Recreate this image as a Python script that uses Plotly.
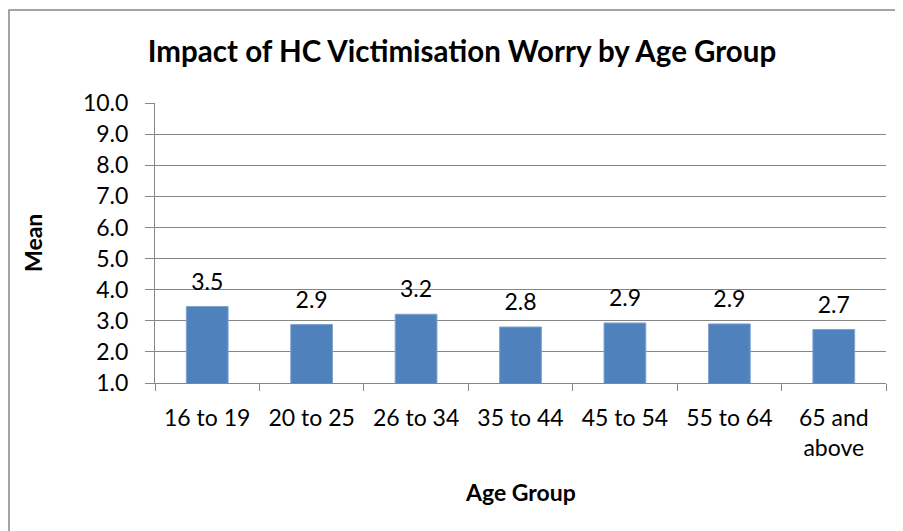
import plotly.graph_objects as go

categories = ["16 to 19", "20 to 25", "26 to 34", "35 to 44", "45 to 54", "55 to 64", "65 and<br>above"]
means = [3.46, 2.88, 3.21, 2.80, 2.93, 2.90, 2.72]
y_ticks = [1, 2, 3, 4, 5, 6, 7, 8, 9, 10]

FONT = "Lato"
GRID = "#868686"
W, H = 895, 523
L, R, T, B = 147, 17, 95, 148
PW, PH = W - L - R, H - T - B

fig = go.Figure()
fig.add_trace(go.Bar(
    x=categories,
    y=means,
    marker=dict(color="#4F81BD", line=dict(color="#7FA3D0", width=1)),
    width=0.4,
    hoverinfo="skip",
))
fig.add_trace(go.Scatter(
    x=categories,
    y=means,
    mode="markers+text",
    marker=dict(size=16, color="rgba(0,0,0,0)"),
    text=[f"{v:.1f}" for v in means],
    textposition="top center",
    textfont=dict(family=FONT, size=23, color="#000000"),
    cliponaxis=False,
    hoverinfo="skip",
))

fig.update_layout(
    width=W, height=H,
    margin=dict(l=L, r=R, t=T, b=B),
    paper_bgcolor="white",
    plot_bgcolor="white",
    showlegend=False,
    title=dict(
        text="<b>Impact of HC Victimisation Worry by Age Group</b>",
        x=454 / W, xanchor="center", xref="container",
        y=1 - 44 / H, yanchor="middle", yref="container",
        font=dict(family=FONT, size=29.5, color="#000000"),
    ),
    xaxis=dict(
        showgrid=False,
        showline=True, linecolor=GRID, linewidth=1,
        ticks="outside", tickson="boundaries", ticklen=7, tickcolor=GRID,
        tickfont=dict(family=FONT, size=23, color="#000000"),
        ticklabelstandoff=14,
    ),
    yaxis=dict(
        range=[1, 10],
        tickvals=y_ticks,
        tickformat=".1f",
        showgrid=True, gridcolor=GRID, gridwidth=1,
        showline=True, linecolor=GRID, linewidth=1,
        ticks="outside", ticklen=9, tickcolor=GRID,
        tickfont=dict(family=FONT, size=23, color="#000000"),
        ticklabelstandoff=12,
        zeroline=False,
    ),
    annotations=[
        dict(text="<b>Mean</b>", xref="paper", yref="paper",
             x=(25 - L) / PW, y=0.5, textangle=-90, showarrow=False,
             xanchor="center", yanchor="middle",
             font=dict(family=FONT, size=23, color="#000000")),
        dict(text="<b>Age Group</b>", xref="paper", yref="paper",
             x=0.5, y=(PH - (484 - T)) / PH, showarrow=False,
             xanchor="center", yanchor="middle",
             font=dict(family=FONT, size=23, color="#000000")),
    ],
    shapes=[dict(
        type="rect", xref="paper", yref="paper",
        x0=(1 - L) / PW, x1=(W + 20 - L) / PW,
        y0=-(H + 20 - T - PH) / PH, y1=1 + (T - 2) / PH,
        line=dict(color="#868686", width=1.5),
        fillcolor="rgba(0,0,0,0)", layer="below",
    )],
)

fig.write_html("out.html")
